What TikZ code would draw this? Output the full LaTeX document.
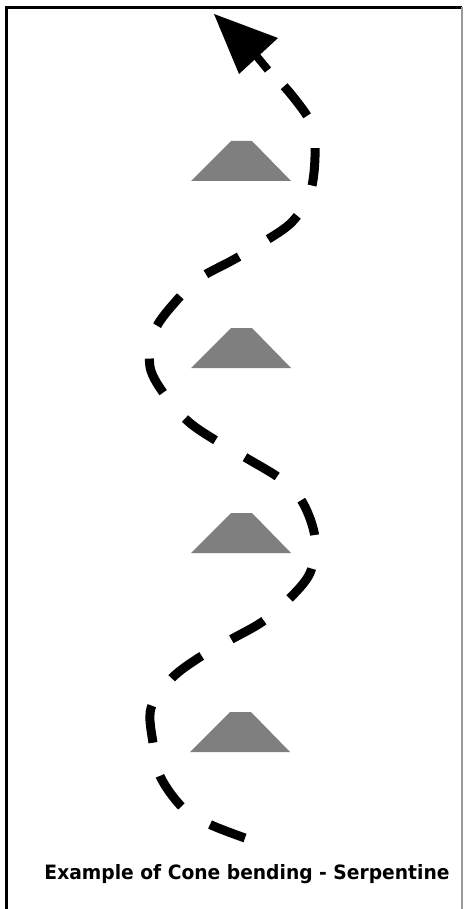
\documentclass[tikz,border=0pt]{standalone}
\usepackage{fontspec}
\setmainfont{DejaVu Sans}
\usetikzlibrary{arrows.meta}
\definecolor{conegray}{HTML}{7F7F7F}
\tikzset{
  conepic/.pic={\fill[conegray] (-50,0) -- (-10,-40) -- (11,-40) -- (50,0) -- cycle;},
  serpent/.style={line width=9pt, dash pattern=on 37.5pt off 34pt},
  frameline/.style={line width=2.8pt, black},
}
\begin{document}
\begin{tikzpicture}[x=1pt,y=-1pt]
\useasboundingbox (0,0) rectangle (463,909);
\fill[white] (0,0) rectangle (463,909);
% frame
\draw[frameline] (6.5,909) -- (6.5,7.5) -- (462,7.5);
\draw[line width=1.8pt, black!40] (461.8,7.5) -- (461.8,909);
% cones
\pic at (241,181) {conepic};
\pic at (241,368) {conepic};
\pic at (241,553) {conepic};
\pic at (240,752) {conepic};
% serpentine path
\draw[serpent] plot[smooth, tension=0.55] coordinates {
  (245,838) (209,824) (182,807) (160,776) (153,743) (151,708)
  (172,678) (200,657) (230,640) (262,622) (288,600) (310,573)
  (315,538) (303,503) (282,480) (248,459) (220,443) (190,423)
  (167,398) (150,367) (155,330) (177,300) (200,278) (233,260)
  (262,243) (292,222) (310,193) (315,157) (312,125) (290,93) (268,70)};
% arrow head
\coordinate (shaftA) at (268,70);
\coordinate (shaftB) at (254,53);
\draw[line width=8pt] (shaftA) -- (shaftB);
\fill (214,14) -- (278,38) -- (239,74) -- cycle;
% caption
\node[anchor=base, inner sep=0pt, font=\bfseries\fontsize{16.5}{19}\selectfont] (caption) at (247,879)
  {\resizebox{405pt}{15pt}{Example of Cone bending - Serpentine}};
\end{tikzpicture}
\end{document}
